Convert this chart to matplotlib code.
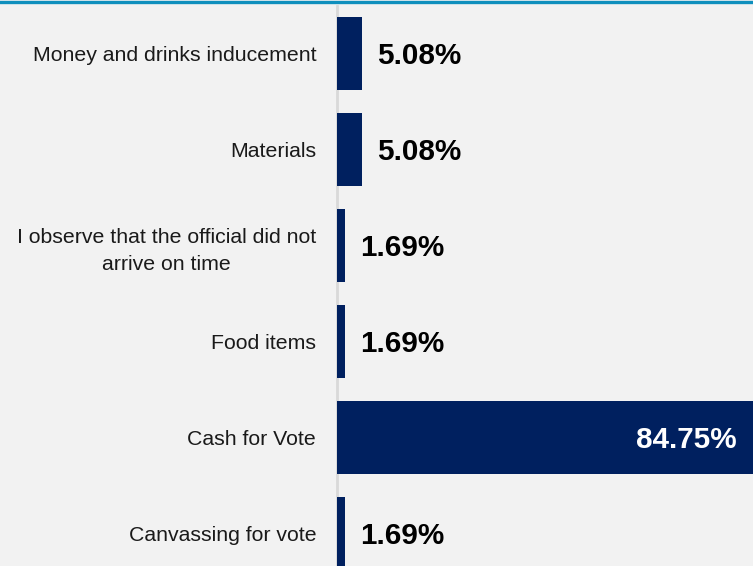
import matplotlib
matplotlib.use("Agg")
import matplotlib.pyplot as plt
from matplotlib.lines import Line2D

# Data
categories = [
    "Money and drinks inducement",
    "Materials",
    "I observe that the official did not\narrive on time",
    "Food items",
    "Cash for Vote",
    "Canvassing for vote",
]
values = [5.08, 5.08, 1.69, 1.69, 84.75, 1.69]

bar_color = "#00205f"
bg_color = "#f2f2f2"

plt.rcParams["font.family"] = ["Liberation Sans", "DejaVu Sans"]

fig = plt.figure(figsize=(7.53, 5.66), dpi=100, facecolor=bg_color)
ax = fig.add_axes([337 / 753, 0.0, 1 - 337 / 753, (566 - 6) / 566])
ax.set_facecolor(bg_color)

positions = list(range(len(categories)))
ax.barh(positions, values, height=0.76, color=bar_color, zorder=2)

ax.set_xlim(0, 84.6)
ax.set_ylim(5.34, -0.49)

# Category labels
ax.set_yticks(positions)
ax.set_yticklabels(categories, fontsize=15.3, color="#1a1a1a", linespacing=1.5,
                   multialignment="center")
ax.tick_params(axis="y", length=0, pad=15)
ax.set_xticks([])

# Value labels
for pos, val in zip(positions, values):
    if val > 50:
        ax.annotate(f"{val:.2f}%", xy=(val, pos), xytext=(-12, 0),
                    textcoords="offset points", ha="right", va="center_baseline",
                    fontsize=21.3, fontweight="bold", color="white", zorder=3,
                    annotation_clip=False)
    else:
        ax.annotate(f"{val:.2f}%", xy=(val, pos), xytext=(11, 0),
                    textcoords="offset points", ha="left", va="center_baseline",
                    fontsize=21.3, fontweight="bold", color="black", zorder=3,
                    annotation_clip=False)

for side in ["top", "right", "bottom"]:
    ax.spines[side].set_visible(False)
ax.spines["left"].set_color("#d9d9d9")
ax.spines["left"].set_linewidth(2)
ax.spines["left"].set_zorder(1)

# Top accent line
fig.add_artist(Line2D([0, 1], [1 - 1.5 / 566, 1 - 1.5 / 566], color="#0f8fbd",
                      linewidth=2.4, transform=fig.transFigure))

fig.savefig("out.png", dpi=100, facecolor=bg_color)
